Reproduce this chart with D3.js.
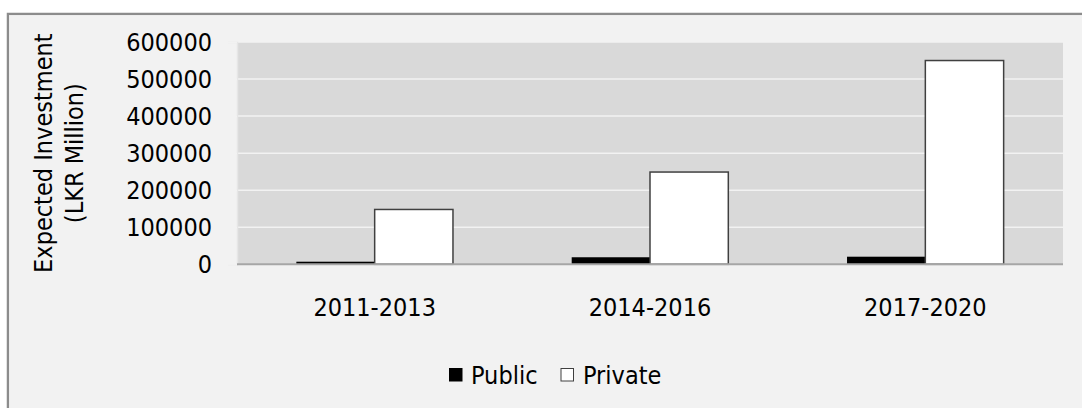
<!DOCTYPE html>
<html>
<head>
<meta charset="utf-8">
<script src="https://cdn.jsdelivr.net/npm/d3@7"></script>
<style>
  html, body { margin: 0; padding: 0; background: #ffffff; }
  svg text { font-family: "DejaVu Sans Condensed", "DejaVu Sans", sans-serif; font-stretch: condensed; fill: #000; }
</style>
</head>
<body>
<svg id="chart" width="1082" height="408"></svg>
<script>
// data
var categories = ["2011-2013", "2014-2016", "2017-2020"];
var series = ["Public", "Private"];
var publicValues = [7000, 19000, 20500];
var privateValues = [148000, 249000, 550000];
var yTicks = [0, 100000, 200000, 300000, 400000, 500000, 600000];

var colors = {Public: "#000000", Private: "#ffffff"};
var fontSize = 25;

var svg = d3.select("#chart");

// outer frame (only left and top edges show in the crop)
svg.append("rect")
    .attr("x", 7.9).attr("y", 13.9)
    .attr("width", 1200).attr("height", 600)
    .attr("fill", "#f2f2f2")
    .attr("stroke", "#8c8c8c")
    .attr("stroke-width", 2.3);

var plot = {left: 237, right: 1063, top: 42, bottom: 264.3};

var x0 = d3.scaleBand()
    .domain(categories)
    .range([plot.left, plot.right])
    .padding(0);

var x1 = d3.scaleBand()
    .domain(series)
    .range([0, x0.bandwidth()])
    .paddingInner(0)
    .paddingOuter(0.758);

var y = d3.scaleLinear()
    .domain([0, 600000])
    .range([plot.bottom, plot.top]);

// plot background
svg.append("rect")
    .attr("x", plot.left).attr("y", plot.top)
    .attr("width", plot.right - plot.left)
    .attr("height", plot.bottom - plot.top)
    .attr("fill", "#d9d9d9");

// gridlines
svg.append("g").selectAll("line")
    .data(yTicks.filter(function (d) { return d > 0; }))
    .enter().append("line")
    .attr("x1", plot.left).attr("x2", plot.right)
    .attr("y1", function (d) { return y(d); })
    .attr("y2", function (d) { return y(d); })
    .attr("stroke", "#f2f2f2")
    .attr("stroke-width", 1.5);

// y axis
var yAxis = svg.append("g")
    .attr("transform", "translate(" + plot.left + ",0)")
    .call(d3.axisLeft(y).tickValues(yTicks).tickFormat(d3.format("d")).tickSize(9).tickPadding(16));
yAxis.select(".domain").attr("stroke", "#e6e6e6").attr("stroke-width", 1.5);
yAxis.selectAll(".tick line").attr("stroke", "#f2f2f2").attr("stroke-width", 1.5);
yAxis.selectAll(".tick text")
    .attr("font-size", fontSize)
    .attr("font-family", null)
    .attr("dy", "0.34em");

// bars
var rows = categories.map(function (c, i) {
    return {cat: c, vals: [{key: "Public", v: publicValues[i]}, {key: "Private", v: privateValues[i]}]};
});

var groups = svg.append("g").selectAll("g")
    .data(rows)
    .enter().append("g")
    .attr("transform", function (d) { return "translate(" + x0(d.cat) + ",0)"; });

groups.selectAll("rect")
    .data(function (d) { return d.vals; })
    .enter().append("rect")
    .attr("x", function (d) { return x1(d.key); })
    .attr("width", x1.bandwidth())
    .attr("y", function (d) { return y(d.v); })
    .attr("height", function (d) { return y(0) - y(d.v); })
    .attr("fill", function (d) { return colors[d.key]; })
    .attr("stroke", function (d) { return d.key == "Private" ? "#404040" : "none"; })
    .attr("stroke-width", 1.5);

// x axis line
svg.append("line")
    .attr("x1", plot.left).attr("x2", plot.right)
    .attr("y1", plot.bottom).attr("y2", plot.bottom)
    .attr("stroke", "#a6a6a6")
    .attr("stroke-width", 2);

// category labels
svg.append("g").selectAll("text")
    .data(categories)
    .enter().append("text")
    .attr("x", function (d) { return x0(d) + x0.bandwidth() / 2; })
    .attr("y", 316)
    .attr("text-anchor", "middle")
    .attr("font-size", fontSize)
    .text(function (d) { return d; });

// y axis title
var title = svg.append("text")
    .attr("transform", "translate(52," + ((plot.top + plot.bottom) / 2) + ") rotate(-90)")
    .attr("text-anchor", "middle")
    .attr("font-size", fontSize);
title.append("tspan").attr("x", 0).attr("y", 0).text("Expected Investment");
title.append("tspan").attr("x", 0).attr("y", 31).text("(LKR Million)");

// legend
var legendItems = [
    {key: "Public", box: 449.5, text: 471},
    {key: "Private", box: 561, text: 583}
];
var legend = svg.append("g");
legend.selectAll("rect")
    .data(legendItems)
    .enter().append("rect")
    .attr("x", function (d) { return d.box; })
    .attr("y", 368.5)
    .attr("width", 12.5).attr("height", 12.5)
    .attr("fill", function (d) { return colors[d.key]; })
    .attr("stroke", function (d) { return d.key == "Private" ? "#404040" : "#000"; })
    .attr("stroke-width", 1);
legend.selectAll("text")
    .data(legendItems)
    .enter().append("text")
    .attr("x", function (d) { return d.text; })
    .attr("y", 383.5)
    .attr("font-size", fontSize)
    .text(function (d) { return d.key; });
</script>
</body>
</html>
